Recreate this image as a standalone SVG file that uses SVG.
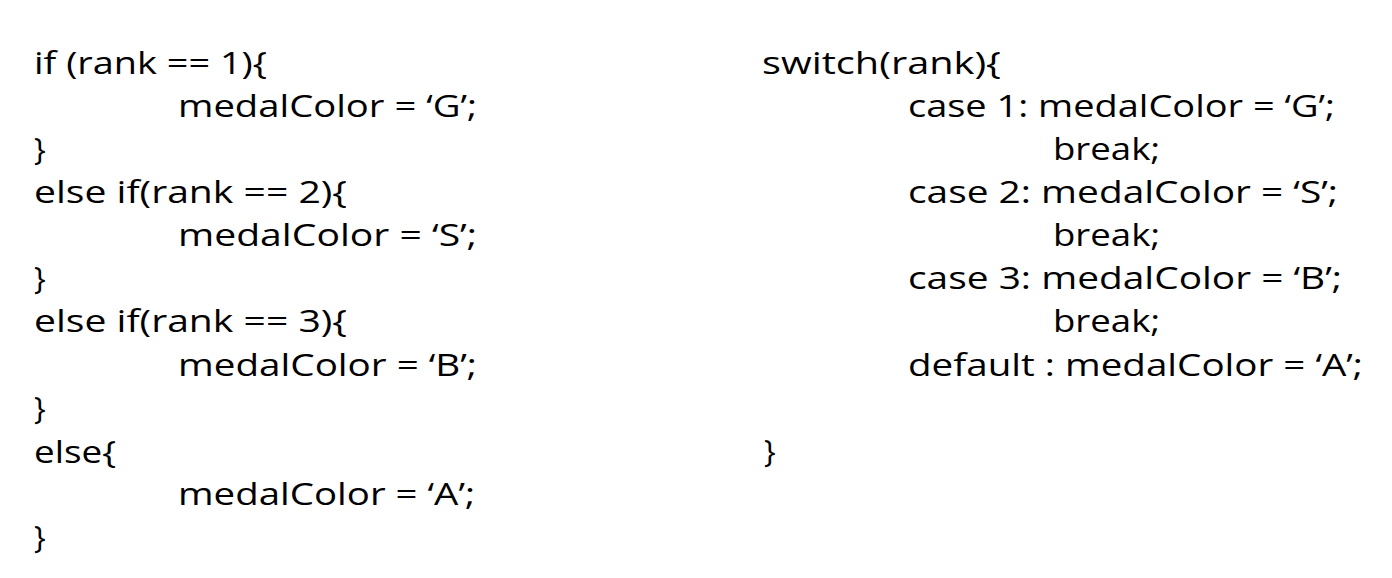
<svg xmlns="http://www.w3.org/2000/svg" width="1392" height="578" viewBox="0 0 1392 578">
<style>
text{font-family:"Open Sans","Noto Sans","Liberation Sans",sans-serif;font-size:31px;fill:#000}
</style>
<rect width="1392" height="578" fill="#fff"/>
<g id="if-chain">
<text x="34" y="73.5" textLength="233" lengthAdjust="spacingAndGlyphs">if (rank == 1){</text>
<text x="178" y="116.6" textLength="299" lengthAdjust="spacingAndGlyphs">medalColor = ‘G’;</text>
<text x="34" y="159.8">}</text>
<text x="34" y="202.9" textLength="313" lengthAdjust="spacingAndGlyphs">else if(rank == 2){</text>
<text x="178" y="246.1" textLength="299" lengthAdjust="spacingAndGlyphs">medalColor = ‘S’;</text>
<text x="34" y="289.2">}</text>
<text x="34" y="332.4" textLength="313" lengthAdjust="spacingAndGlyphs">else if(rank == 3){</text>
<text x="178" y="375.5" textLength="299" lengthAdjust="spacingAndGlyphs">medalColor = ‘B’;</text>
<text x="34" y="418.7">}</text>
<text x="34" y="462.5" textLength="82" lengthAdjust="spacingAndGlyphs">else{</text>
<text x="178" y="505" textLength="297" lengthAdjust="spacingAndGlyphs">medalColor = ‘A’;</text>
<text x="34" y="548.1">}</text>
</g>
<g id="switch-block">
<text x="762" y="73.5" textLength="239" lengthAdjust="spacingAndGlyphs">switch(rank){</text>
<text x="908" y="116.6" textLength="427" lengthAdjust="spacingAndGlyphs">case 1: medalColor = ‘G’;</text>
<text x="1053" y="159.8" textLength="107" lengthAdjust="spacingAndGlyphs">break;</text>
<text x="908" y="202.9" textLength="430" lengthAdjust="spacingAndGlyphs">case 2: medalColor = ‘S’;</text>
<text x="1053" y="246.1" textLength="107" lengthAdjust="spacingAndGlyphs">break;</text>
<text x="908" y="289.2" textLength="434" lengthAdjust="spacingAndGlyphs">case 3: medalColor = ‘B’;</text>
<text x="1053" y="332.4" textLength="107" lengthAdjust="spacingAndGlyphs">break;</text>
<text x="908" y="375.5" textLength="455" lengthAdjust="spacingAndGlyphs">default : medalColor = ‘A’;</text>
<text x="764" y="461.8">}</text>
</g>
</svg>
